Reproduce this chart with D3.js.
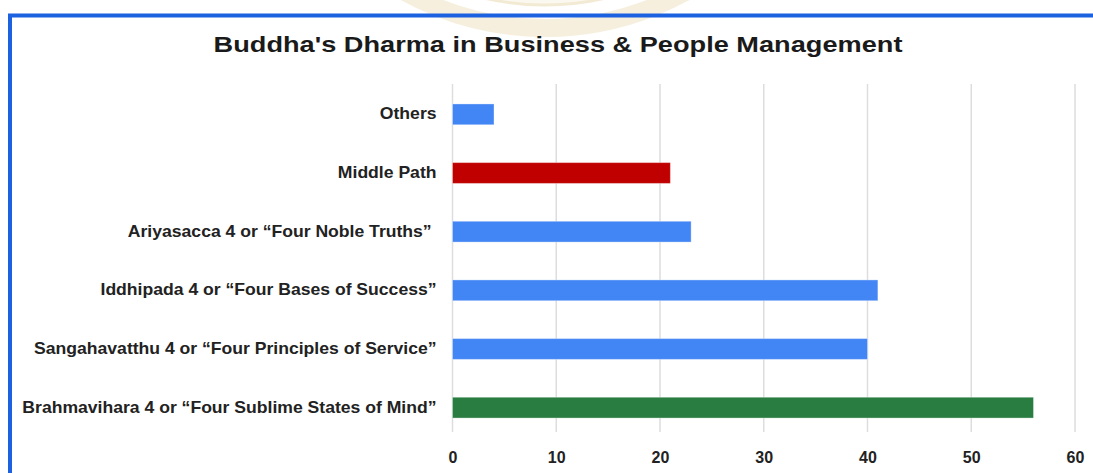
<!DOCTYPE html>
<html>
<head>
<meta charset="utf-8">
<script src="https://cdn.jsdelivr.net/npm/d3@7"></script>
<style>
  body { margin: 0; background: #fff; }
  text { font-family: Arial, "Liberation Sans", sans-serif; }
</style>
</head>
<body>
<div id="chart"></div>
<script>
// Data
var categories = [
    "Others",
    "Middle Path",
    "Ariyasacca 4 or \u201cFour Noble Truths\u201d ",
    "Iddhipada 4 or \u201cFour Bases of Success\u201d",
    "Sangahavatthu 4 or \u201cFour Principles of Service\u201d",
    "Brahmavihara 4 or \u201cFour Sublime States of Mind\u201d"
];
var values = [4, 21, 23, 41, 40, 56];
var barColors = ["#4285f4", "#c00000", "#4285f4", "#4285f4", "#4285f4", "#2a7d41"];
var xTicks = [0, 10, 20, 30, 40, 50, 60];
var title = "Buddha's Dharma in Business & People Management";

var W = 1093, H = 473;
var plot = { left: 452.5, right: 1075, top: 84, bottom: 438 };

var svg = d3.select("#chart")
    .append("svg")
    .attr("width", W)
    .attr("height", H);

// faint watermark behind the frame
var wm = svg.append("g").attr("opacity", 0.45);
wm.append("circle")
    .attr("cx", 545).attr("cy", -263).attr("r", 291)
    .attr("fill", "none").attr("stroke", "#ecdcb4").attr("stroke-width", 18);
wm.append("circle")
    .attr("cx", 545).attr("cy", -263).attr("r", 268)
    .attr("fill", "#f8f1e0").attr("stroke", "#e6d2a2").attr("stroke-width", 3);

// blue frame (top and left edges)
svg.append("path")
    .attr("d", "M10," + H + " L10,15.5 L" + W + ",15.5")
    .attr("fill", "none")
    .attr("stroke", "#1c61df")
    .attr("stroke-width", 4);

// Scales
var x = d3.scaleLinear().domain([0, 60]).range([plot.left, plot.right]);
var y = d3.scaleBand().domain(categories).range([plot.top, plot.bottom])
    .paddingInner(0.645).paddingOuter(0.34);

// Title (stretched a little wider, like the source)
svg.append("text")
    .attr("transform", "translate(558,52) scale(1.235,1)")
    .attr("text-anchor", "middle")
    .style("font-size", "22px")
    .style("font-weight", "bold")
    .style("fill", "#1a1a1a")
    .text(title);

// Vertical grid lines
svg.append("g")
    .selectAll("line")
    .data(xTicks)
    .join("line")
    .attr("x1", function (d) { return x(d); })
    .attr("x2", function (d) { return x(d); })
    .attr("y1", plot.top)
    .attr("y2", plot.bottom - 6)
    .attr("stroke", "#dddddd")
    .attr("stroke-width", 1.5);

// x axis tick labels
var xAxis = d3.axisBottom(x).tickValues(xTicks).tickSize(0).tickPadding(0);
var gx = svg.append("g")
    .attr("transform", "translate(0," + 452 + ")")
    .call(xAxis);
gx.select(".domain").remove();
gx.selectAll("text")
    .style("font-size", "16px")
    .style("font-weight", "bold")
    .style("fill", "#222");

// y axis category labels
var yAxis = d3.axisLeft(y).tickSize(0).tickPadding(0);
var gy = svg.append("g")
    .attr("transform", "translate(" + plot.left + ",0)")
    .call(yAxis);
gy.select(".domain").remove();
gy.selectAll("text")
    .attr("x", 0)
    .attr("transform", "translate(-16,0) scale(1.1,1)")
    .attr("xml:space", "preserve")
    .style("white-space", "pre")
    .style("font-size", "16px")
    .style("font-weight", "bold")
    .style("fill", "#222");

// Bars
svg.append("g")
    .selectAll("rect")
    .data(values)
    .join("rect")
    .attr("x", x(0))
    .attr("y", function (d, i) { return y(categories[i]); })
    .attr("width", function (d) { return x(d) - x(0); })
    .attr("height", y.bandwidth())
    .attr("fill", function (d, i) { return barColors[i]; })
    .attr("stroke", "#ffffff")
    .attr("stroke-opacity", 0.35)
    .attr("stroke-width", 1);
</script>
</body>
</html>
